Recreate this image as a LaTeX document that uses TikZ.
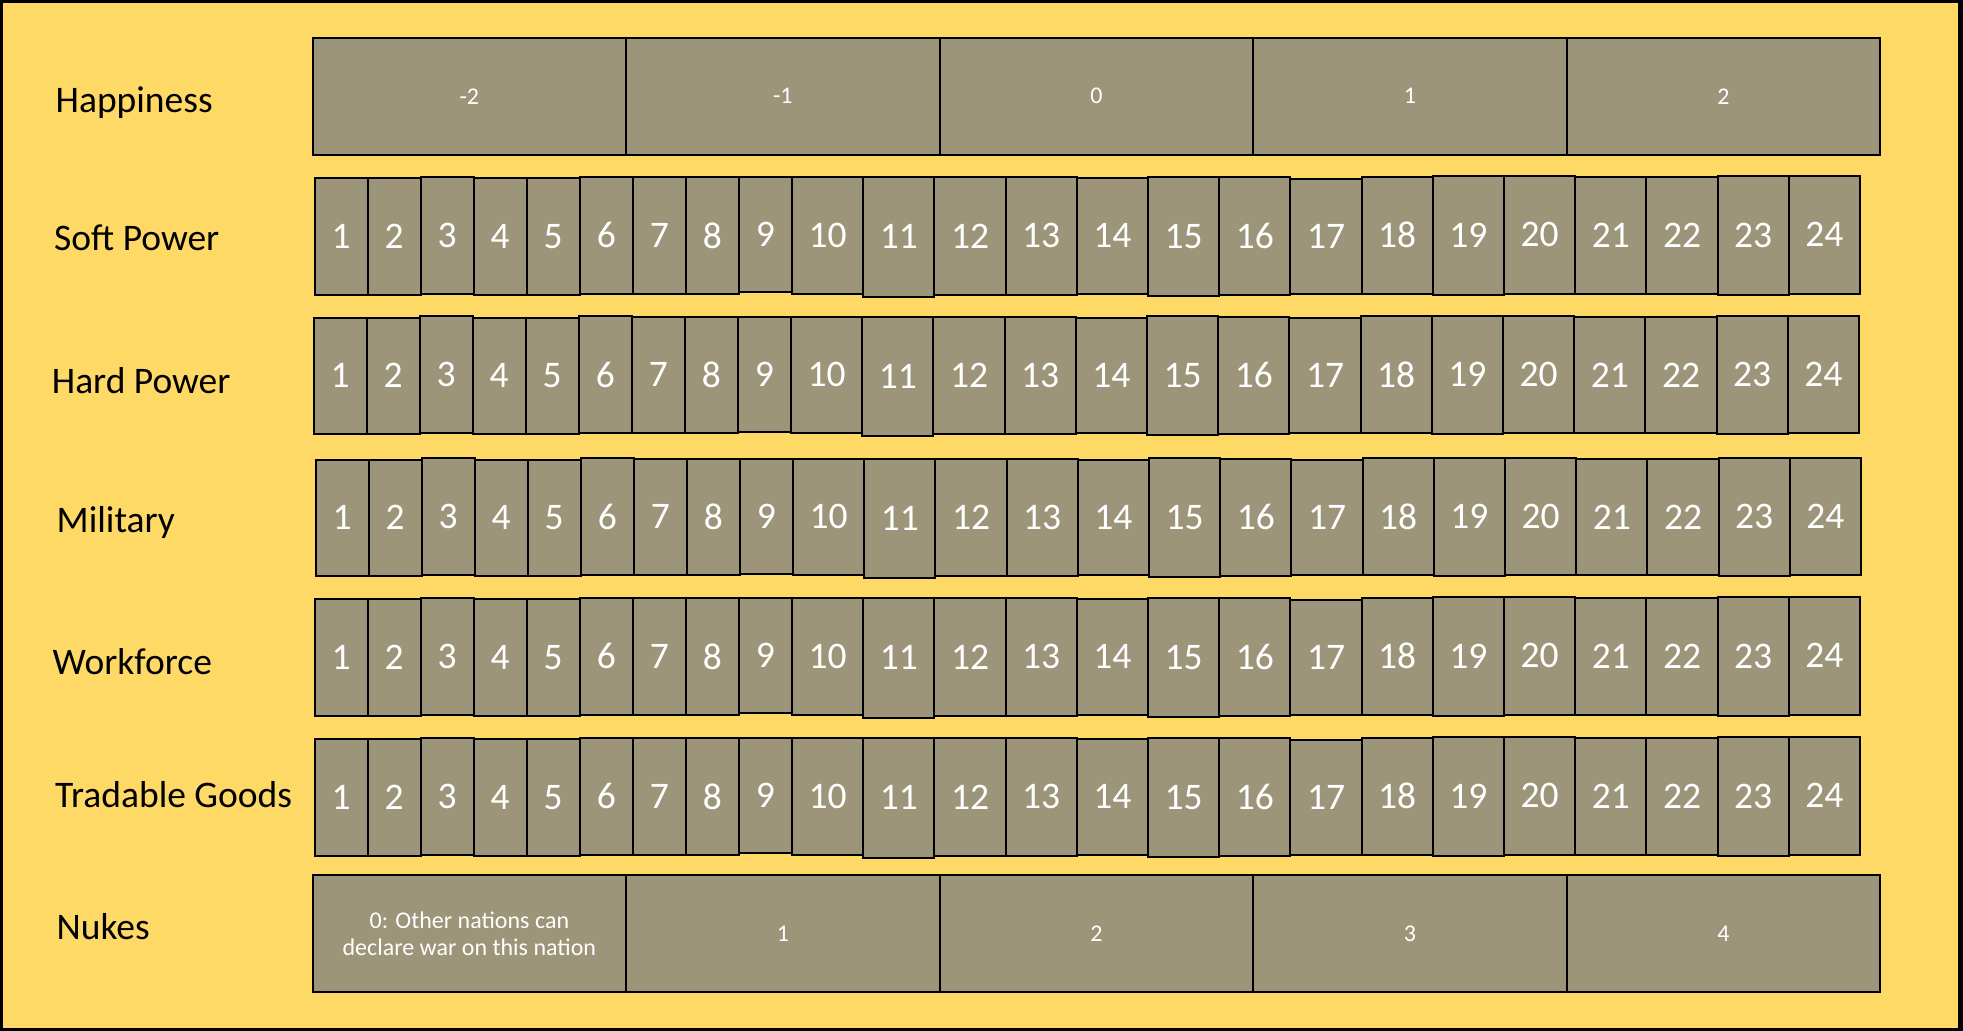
\documentclass[tikz,border=0pt]{standalone}
\usepackage{fontspec}
\setmainfont{Carlito}
\definecolor{bgyellow}{RGB}{255,217,102}
\definecolor{cellfill}{RGB}{157,149,121}
\begin{document}
\begin{tikzpicture}[x=1pt,y=-1pt,
  cell/.style={draw=black, line width=2pt, fill=cellfill, text=white, inner sep=0pt, anchor=north west},
  numtxt/.style={font=\fontsize{37.5}{45}\selectfont},
  smalltxt/.style={font=\fontsize{24}{27.3}\selectfont, align=center},
  rowlabel/.style={anchor=base west, font=\fontsize{37.5}{45}\selectfont, text=black, inner sep=0pt}]
\useasboundingbox (0,0) rectangle (1963,1031);
\fill[black] (0,0) rectangle (1963,1031);
\fill[bgyellow] (3,3) rectangle (1957.5,1028);

% Happiness row
\node[rowlabel] (lab-hap) at (55.5,112.7) {Happiness};
\foreach \v [count=\k from 0] in {-2,-1,0,1,2} {
  \node[cell, smalltxt, minimum width=313.5pt, minimum height=117.5pt] (hap-\k) at ({311.6+\k*313.5},36.5) {\v};
}

% Numeric rows
\foreach \r/\ty/\xs/\lab/\base/\lx in {
  sp/177/0/Soft Power/250.7/54,
  hp/316.5/-1/Hard Power/393/51.7,
  mil/458.5/1/Military/532/56.5,
  wf/598/0/Workforce/674/52.5,
  tg/738/0/Tradable Goods/807.6/55} {
  \node[rowlabel] (lab-\r) at (\lx,\base) {\lab};
  \foreach \i in {1,...,24} {
    \pgfmathsetmacro\dt{{0,0,-1.3,0,0,-1.3,-0.7,-0.7,-0.7,-0.7,-0.7,-0.7,-0.7,0,-1.3,-0.7,0.7,-1.3,-2,-2,-0.7,-0.7,-2,-2}[\i-1]}
    \pgfmathsetmacro\db{{0,0,-1,0,0,-1,-1,-1,-2.3,-1,2,0,0,-1,1,0,-1,-1,0,-1,-1,-1,0,-1}[\i-1]}
    \pgfmathsetmacro\cx{\i<10 ? 313.5+(\i-1)*53.05+\xs : 791+(\i-10)*71.2+\xs}
    \pgfmathsetmacro\cw{\i<10 ? 53.05 : 71.2}
    \pgfmathsetmacro\ch{116.5+\db-\dt}
    \pgfmathsetmacro\cy{\ty+\dt}
    \node[cell, numtxt, minimum width=\cw pt, minimum height=\ch pt] (\r-\i) at (\cx,\cy) {\i};
  }
}

% Nukes row
\node[rowlabel] (lab-nk) at (56.5,939.7) {Nukes};
\node[cell, smalltxt, minimum width=313.5pt, minimum height=117pt] (nk-0) at (311.6,874) {0: Other nations can\\declare war on this nation};
\foreach \v in {1,2,3,4} {
  \node[cell, smalltxt, minimum width=313.5pt, minimum height=117pt] (nk-\v) at ({311.6+\v*313.5},874) {\v};
}
\end{tikzpicture}
\end{document}
